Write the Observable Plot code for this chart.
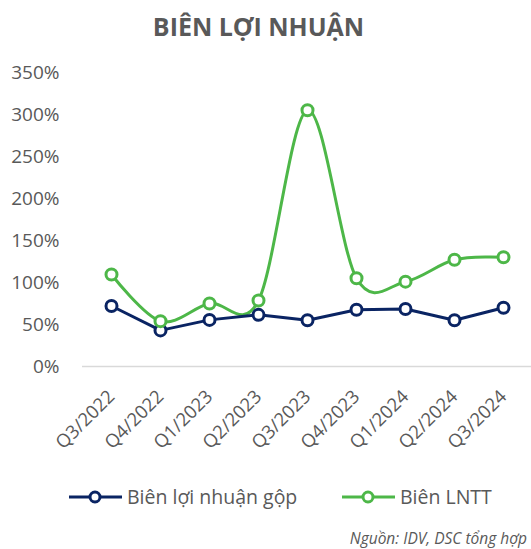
<!DOCTYPE html>
<html><head><meta charset="utf-8">
<script src="https://cdn.jsdelivr.net/npm/d3@7"></script>
<script src="https://cdn.jsdelivr.net/npm/@observablehq/plot@0.6"></script>
<style>
body{margin:0;background:#fff;font-family:"Open Sans",sans-serif;width:531px;}
#title{height:55px;line-height:52px;text-align:center;font-weight:700;font-size:25px;color:#595959;padding-right:14px;}
#legend{position:relative;height:68px;font-size:19.5px;color:#595959;}
.lg{position:absolute;top:24px;display:flex;align-items:center;line-height:26px;}
#src{text-align:right;font-style:italic;font-size:15.5px;line-height:20px;color:#595959;padding-right:4px;}
</style></head>
<body>
<div id="title">BIÊN LỢI NHUẬN</div>
<div id="chart"></div>
<div id="legend"></div>
<div id="src">Nguồn: IDV, DSC tổng hợp</div>
<script>
const quarters = ["Q3/2022","Q4/2022","Q1/2023","Q2/2023","Q3/2023","Q4/2023","Q1/2024","Q2/2024","Q3/2024"];
const grossMargin = [72, 43, 55.5, 61.5, 55, 67.5, 68.5, 55, 70];
const pretaxMargin = [109.5, 54, 75, 78.5, 305, 105, 101, 127, 130];
const seriesNames = ["Biên lợi nhuận gộp", "Biên LNTT"];
const seriesColors = ["#0A2463", "#4DB748"];
const yTicks = [0, 50, 100, 150, 200, 250, 300, 350];

const gross = quarters.map((q,i)=>({q, v: grossMargin[i]}));
const pretax = quarters.map((q,i)=>({q, v: pretaxMargin[i]}));

const chart = Plot.plot({
  width: 531, height: 405,
  marginTop: 17, marginBottom: 94, marginLeft: 82, marginRight: 0,
  style: {fontFamily: "Open Sans", color: "#595959", background: "#fff"},
  x: {domain: quarters, type: "point", padding: 0.5, label: null},
  y: {domain: [0, 350], label: null},
  marks: [
    Plot.ruleY([0], {stroke: "#d9d9d9", strokeWidth: 1.5}),
    Plot.axisY({ticks: yTicks, tickSize: 0, tickPadding: 23, fontSize: 19, tickFormat: d => d + "%"}),
    Plot.axisX({tickSize: 0, tickRotate: -45, tickPadding: 27, fontSize: 18.5}),
    Plot.line(pretax, {x: "q", y: "v", stroke: seriesColors[1], strokeWidth: 3, curve: "cardinal"}),
    Plot.line(gross, {x: "q", y: "v", stroke: seriesColors[0], strokeWidth: 3}),
    Plot.dot(gross, {x: "q", y: "v", r: 5.5, fill: "#fff", stroke: seriesColors[0], strokeWidth: 3}),
    Plot.dot(pretax, {x: "q", y: "v", r: 5.5, fill: "#fff", stroke: seriesColors[1], strokeWidth: 3})
  ]
});
document.getElementById("chart").appendChild(chart);

const legend = document.getElementById("legend");
const lefts = [69, 342];
seriesNames.forEach((name, i) => {
  const d = document.createElement("div");
  d.className = "lg";
  d.style.left = lefts[i] + "px";
  d.innerHTML = `<svg width="58" height="16" style="margin-right:0px"><line x1="0" x2="53" y1="8" y2="8" stroke="${seriesColors[i]}" stroke-width="3"/><circle cx="26" cy="8" r="5" fill="#fff" stroke="${seriesColors[i]}" stroke-width="3"/></svg><span>${name}</span>`;
  legend.appendChild(d);
});
</script>
</body></html>
